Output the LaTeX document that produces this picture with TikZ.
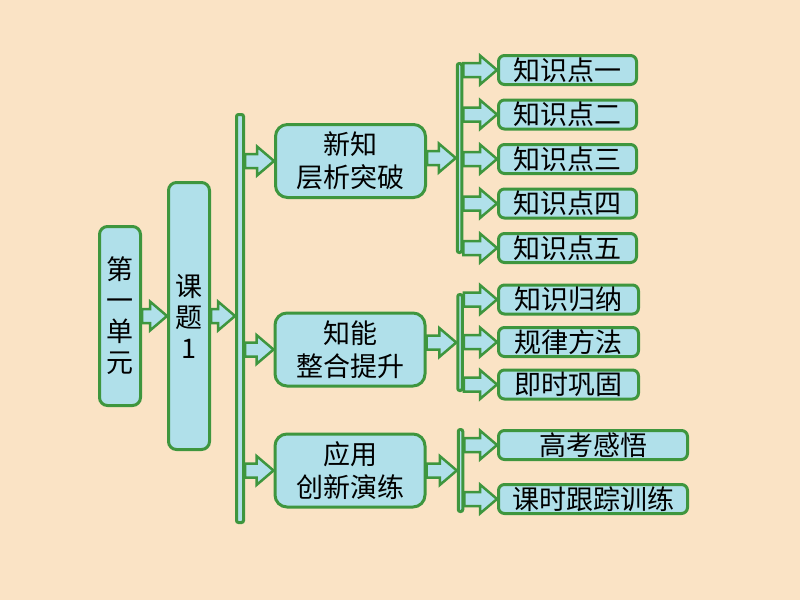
\documentclass[tikz,border=0pt]{standalone}
\usepackage{fontspec}
\setmainfont{Noto Sans CJK SC}
\usetikzlibrary{positioning,calc}

\definecolor{bgpeach}{RGB}{250,227,197}
\definecolor{dropblue}{RGB}{176,224,234}
\definecolor{rimgreen}{RGB}{62,150,62}

\begin{document}
\begin{tikzpicture}[x=1pt, y=-1pt, node distance=12.5pt,
  font=\fontsize{27}{31}\selectfont,
  box/.style={draw=rimgreen, fill=dropblue, line width=3pt, rounded corners=8pt, inner sep=0pt, align=center},
  bar/.style={box, rounded corners=2pt, minimum width=4.5pt},
  section/.style={box, rounded corners=12pt, minimum width=150pt, minimum height=73pt, font=\fontsize{27}{33}\selectfont},
  leaf/.style={box, rounded corners=6pt, minimum width=138pt, minimum height=29pt},
  blockarr/.style={draw=rimgreen, fill=dropblue, line width=2.5pt, line join=miter,
    to path={let \p1=(\tikztostart), \p2=(\tikztotarget) in
      (\x1,\y1+7pt) -- (\x2-17pt,\y1+7pt) -- (\x2-17pt,\y1+14.5pt) -- (\x2,\y1)
      -- (\x2-17pt,\y1-14.5pt) -- (\x2-17pt,\y1-7pt) -- (\x1,\y1-7pt) -- cycle}}]
  \fill[bgpeach] (0,0) rectangle (800,600);

  \node[box, minimum width=41pt, minimum height=179pt] (unit) at (120,316) {第\\一\\单\\元};
  \node[box, minimum width=41pt, minimum height=267pt, right=25pt of unit] (lesson) {课\\题\\1};
  \node[bar, minimum width=7pt, minimum height=408pt] (bar1) at (240,318.5) {};

  \node[section] (study) at (350.5,161) {新知\\层析突破};
  \node[section] (review) at (350,349.5) {知能\\整合提升};
  \node[section] (apply) at (350,470.5) {应用\\创新演练};

  \node[bar, minimum height=189pt] (barA) at (459.5,158) {};
  \node[bar, minimum height=96pt] (barB) at (460,342.5) {};
  \node[bar, minimum height=82pt] (barC) at (460.5,470.5) {};

  \node[leaf] (kp1) at (567.5,70) {知识点一};
  \node[leaf, below=of kp1] (kp2) {知识点二};
  \node[leaf, below=of kp2] (kp3) {知识点三};
  \node[leaf, below=of kp3] (kp4) {知识点四};
  \node[leaf, below=of kp4] (kp5) {知识点五};

  \node[leaf, minimum width=140pt] (induct) at (568.5,299.5) {知识归纳};
  \node[leaf, minimum width=140pt, below=10.5pt of induct] (method) {规律方法};
  \node[leaf, minimum width=140pt, below=10.5pt of method] (consol) {即时巩固};

  \node[leaf, minimum width=189pt] (exam) at (593,445) {高考感悟};
  \node[leaf, minimum width=189pt, below=22pt of exam] (drill) {课时跟踪训练};

  % block arrows
  \draw[blockarr] (unit.east) to (lesson.west);
  \draw[blockarr] (lesson.east) to (bar1.west |- lesson);
  \draw[blockarr] (bar1.east |- study) to (study.west);
  \draw[blockarr] (bar1.east |- review) to (review.west);
  \draw[blockarr] (bar1.east |- apply) to (apply.west);

  \draw[blockarr] (study.east |- barA) to (barA.west);
  \draw[blockarr] (review.east |- barB) to (barB.west);
  \draw[blockarr] (apply.east |- barC) to (barC.west);

  \foreach \k in {kp1,kp2,kp3,kp4,kp5}
    \draw[blockarr] (barA.east |- \k) to (\k.west);
  \foreach \k in {induct,method,consol}
    \draw[blockarr] (barB.east |- \k) to (\k.west);
  \foreach \k in {exam,drill}
    \draw[blockarr] (barC.east |- \k) to (\k.west);
\end{tikzpicture}
\end{document}
